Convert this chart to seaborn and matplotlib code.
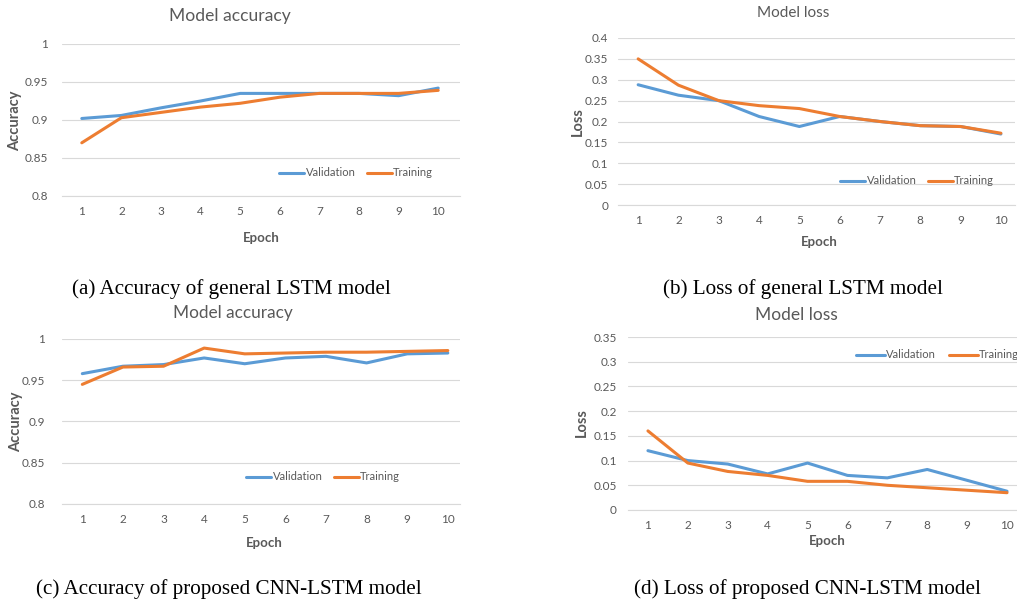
"""Training curves of the general LSTM and the proposed CNN-LSTM model."""

import pandas as pd
import matplotlib.pyplot as plt
import seaborn as sns

W, H = 1017, 602

epochs = [1, 2, 3, 4, 5, 6, 7, 8, 9, 10]

# (a) accuracy, general LSTM
acc_lstm_val = [0.902, 0.906, 0.916, 0.925, 0.935, 0.935, 0.935, 0.935, 0.932, 0.942]
acc_lstm_train = [0.870, 0.903, 0.910, 0.917, 0.922, 0.930, 0.935, 0.935, 0.935, 0.939]
# (b) loss, general LSTM
loss_lstm_val = [0.288, 0.263, 0.250, 0.212, 0.188, 0.212, 0.200, 0.190, 0.188, 0.170]
loss_lstm_train = [0.350, 0.287, 0.250, 0.238, 0.231, 0.212, 0.200, 0.190, 0.188, 0.172]
# (c) accuracy, CNN-LSTM
acc_cnn_val = [0.958, 0.967, 0.969, 0.977, 0.970, 0.977, 0.979, 0.971, 0.982, 0.983]
acc_cnn_train = [0.945, 0.966, 0.967, 0.989, 0.982, 0.983, 0.984, 0.984, 0.985, 0.986]
# (d) loss, CNN-LSTM
loss_cnn_val = [0.120, 0.100, 0.093, 0.073, 0.095, 0.070, 0.065, 0.082, 0.060, 0.038]
loss_cnn_train = [0.160, 0.095, 0.078, 0.070, 0.058, 0.058, 0.050, 0.045, 0.040, 0.035]

acc_ticks = [0.8, 0.85, 0.9, 0.95, 1]
loss_ticks_b = [0, 0.05, 0.1, 0.15, 0.2, 0.25, 0.3, 0.35, 0.4]
loss_ticks_d = [0, 0.05, 0.1, 0.15, 0.2, 0.25, 0.3, 0.35]

captions = [
    "(a) Accuracy of general LSTM model",
    "(b) Loss of general LSTM model",
    "(c) Accuracy of proposed CNN-LSTM model",
    "(d) Loss of proposed CNN-LSTM model",
]

sns.set_theme(style="white")
plt.rcParams['font.family'] = ['Lato', 'DejaVu Sans']

BLUE, ORANGE = '#5B9BD5', '#ED7D31'
GREY = '#595959'
GRID = '#D9D9D9'

fig = plt.figure(figsize=(W / 100, H / 100), dpi=100)


def fx(x):
    return x / W


def fy(y):
    return 1 - y / H


def plot(val, train, ticks, title, ylabel, box, xmax, ypad, lay):
    """Draw one Excel-like panel. box = (left, top, right, bottom) in pixels."""
    l, t, r, b = box
    ax = fig.add_axes([fx(l), fy(b), (r - l) / W, (b - t) / H])

    df = pd.DataFrame({'Epoch': epochs * 2,
                       'value': val + train,
                       'series': ['Validation'] * 10 + ['Training'] * 10})
    sns.lineplot(data=df, x='Epoch', y='value', hue='series',
                 hue_order=['Validation', 'Training'],
                 palette=[BLUE, ORANGE], linewidth=2.2, ax=ax, legend=False)

    ax.set_xlim(0.5, xmax)
    ax.set_ylim(ticks[0], ticks[-1])
    ax.set_xticks(epochs)
    ax.set_yticks(ticks)
    ax.set_yticklabels([f"{v:g}" for v in ticks])
    ax.tick_params(axis='both', colors=GREY, labelsize=8.5, length=0)
    ax.tick_params(axis='x', pad=7)
    ax.tick_params(axis='y', pad=ypad)
    ax.yaxis.grid(True, color=GRID, lw=0.8)
    ax.xaxis.grid(False)
    for s in ['top', 'right', 'left']:
        ax.spines[s].set_visible(False)
    ax.spines['bottom'].set_color(GRID)
    ax.spines['bottom'].set_linewidth(0.8)
    ax.set_xlabel('')
    ax.set_ylabel('')

    # title, axis labels, legend, caption (pixel positions)
    fig.text(fx(lay['title'][0]), fy(lay['title'][1]), title,
             ha='center', va='center', color=GREY, fontsize=lay['tsize'])
    fig.text(fx(lay['xlab'][0]), fy(lay['xlab'][1]), 'Epoch',
             ha='center', va='center', color=GREY, fontsize=9.5,
             fontweight='bold')
    fig.text(fx(lay['ylab'][0]), fy(lay['ylab'][1]), ylabel,
             ha='center', va='center', color=GREY, fontsize=10.5,
             fontweight='bold', rotation=90)
    handles = [plt.Line2D([], [], color=BLUE, lw=2.2),
               plt.Line2D([], [], color=ORANGE, lw=2.2)]
    leg = ax.legend(handles, ['Validation', 'Training'], ncol=2,
                    loc=lay.get('loc', 'center'),
                    bbox_to_anchor=(fx(lay['leg'][0]), fy(lay['leg'][1])),
                    bbox_transform=fig.transFigure, frameon=False,
                    fontsize=8, handlelength=lay.get('hl', 2.3),
                    handletextpad=0.1, columnspacing=lay.get('cs', 1.0),
                    borderpad=0, borderaxespad=0)
    for txt in leg.get_texts():
        txt.set_color(GREY)
    fig.text(fx(lay['cap'][0]), fy(lay['cap'][1]), lay['caption'],
             ha='center', va='center', color='black', fontsize=15.2,
             family=['Liberation Serif', 'DejaVu Serif'])
    return ax


plot(acc_lstm_val, acc_lstm_train, acc_ticks, 'Model accuracy', 'Accuracy',
     (62, 44, 460, 196), 10.55, 10,
     dict(title=(230, 16), tsize=12.6, xlab=(261, 238), ylab=(15, 121),
          leg=(356, 173), cap=(231, 289), caption=captions[0]))

plot(loss_lstm_val, loss_lstm_train, loss_ticks_b, 'Model loss', 'Loss',
     (618, 38, 1015, 205), 10.35, 7,
     dict(title=(793, 13), tsize=11, xlab=(819, 242), ylab=(578, 122),
          leg=(917, 181), cap=(803, 289), caption=captions[1]))

plot(acc_cnn_val, acc_cnn_train, acc_ticks, 'Model accuracy', 'Accuracy',
     (62, 339, 460, 504), 10.3, 12,
     dict(title=(233, 313), tsize=12.4, xlab=(264, 543), ylab=(16, 422),
          leg=(323, 477), cap=(229, 589), caption=captions[2]))

plot(loss_cnn_val, loss_cnn_train, loss_ticks_d, 'Model loss', 'Loss',
     (628, 337, 1017, 510), 10.25, 8,
     dict(title=(796, 315), tsize=12.5, xlab=(827, 541), ylab=(582, 423),
          leg=(856, 355), loc='center left', hl=2.6, cs=1.15,
          cap=(807, 589), caption=captions[3]))

fig.savefig('out.png', dpi=100)
